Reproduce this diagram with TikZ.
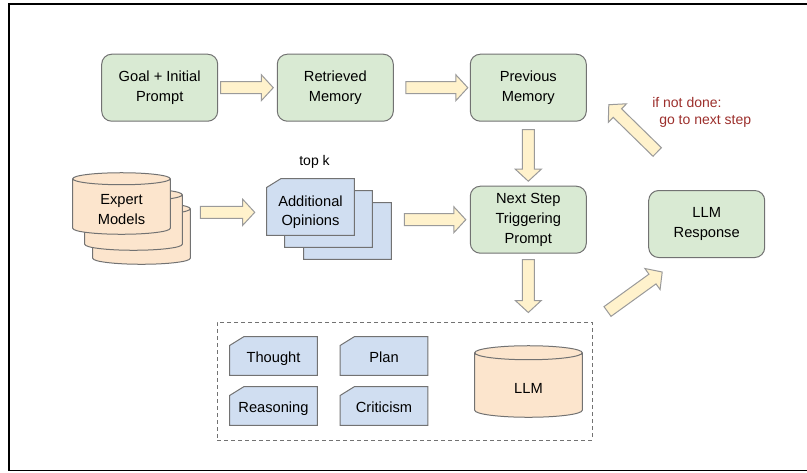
\documentclass[tikz,border=0pt]{standalone}
\usepackage{fontspec}
\setmainfont{Liberation Sans}
\usetikzlibrary{calc,backgrounds}

\definecolor{boxgreen}{HTML}{D9EAD3}
\definecolor{boxline}{HTML}{727272}
\definecolor{cardblue}{HTML}{D0DEF1}
\definecolor{cylorange}{HTML}{FCE5CD}
\definecolor{arrowyellow}{HTML}{FFF2CC}
\definecolor{arrowline}{HTML}{9A9A9A}
\definecolor{notered}{HTML}{9C2F2C}

\tikzset{
  stepbox/.style={draw=boxline, fill=boxgreen, rounded corners=7.5pt, line width=0.75pt,
    minimum width=87pt, minimum height=50.25pt, inner sep=0pt, align=center},
  cardnode/.style={minimum width=65.25pt, inner sep=0pt, align=center},
  cylnode/.style={inner sep=0pt, align=center},
  cardline/.style={draw=boxline, fill=cardblue, line width=0.75pt},
  cylline/.style={draw=boxline, fill=cylorange, line width=0.75pt},
  bigarrow/.style={draw=arrowline, fill=arrowyellow, line width=0.75pt},
  note/.style={font=\fontsize{10.5}{12.75}\selectfont, inner sep=0pt},
}

% card with cut corner, drawn behind a node
\newcommand{\drawcard}[1]{%
  \filldraw[cardline] let \p1=(#1.north west), \p2=(#1.south east) in
    ({\x1+10.5pt},\y1) -- (\x2,\y1) -- (\x2,\y2) -- (\x1,\y2) -- (\x1,{\y1-6.5pt}) -- cycle;}

% cylinder drawn round a node (#2 = radius of the ends)
\newcommand{\drawcyl}[2]{%
  \filldraw[cylline] let \p1=(#1.north west), \p2=(#1.south east), \n1={(\x2-\x1)/2} in
    (\x1,{\y1+#2}) -- (\x1,{\y2+#2}) arc[start angle=180, end angle=360, x radius=\n1, y radius=#2]
    -- (\x2,{\y1+#2}) arc[start angle=0, end angle=180, x radius=\n1, y radius=#2] -- cycle
    (\x1,{\y1+#2}) arc[start angle=180, end angle=360, x radius=\n1, y radius=#2];}

% block arrow from #1 to #2
\newcommand{\blockarrow}[2]{%
  \coordinate (ba-a) at #1;
  \coordinate (ba-b) at #2;
  \coordinate (ba-c) at ($(ba-b)!9pt!(ba-a)$);
  \filldraw[bigarrow]
    ($(ba-a)!4.5pt!90:(ba-b)$) -- ($(ba-c)!4.5pt!90:(ba-b)$) -- ($(ba-c)!9.75pt!90:(ba-b)$)
    -- (ba-b) -- ($(ba-c)!9.75pt!-90:(ba-b)$) -- ($(ba-c)!4.5pt!-90:(ba-b)$)
    -- ($(ba-a)!4.5pt!-90:(ba-b)$) -- cycle;}

% text set a little low, under the cut corner
\newcommand{\lowtext}[2]{\raisebox{-#1}[\height][\depth]{\begin{tabular}{@{}c@{}}#2\end{tabular}}}

\begin{document}
\begin{tikzpicture}[x=0.75pt, y=-0.75pt, every node/.style={font=\fontsize{11}{14.8}\selectfont}]
    \useasboundingbox (0,0) rectangle (807,472);

    % Frame
    \draw[line width=1pt] (807,4) -- (9,4) -- (9,470.5) -- (807,470.5);

    % Steps
    \node[stepbox] (goal) at (159.7,87.7) {Goal + Initial\\Prompt};
    \node[stepbox] (ret) at (335.3,87.7) {Retrieved\\Memory};
    \node[stepbox] (prev) at (528.3,87.7) {Previous\\Memory};
    \node[stepbox] (next) at (528.3,219.7) {Next Step\\Triggering\\Prompt};
    \node[stepbox] (resp) at (706.7,224) {LLM\\Response};

    % Expert models
    \node[cylnode, minimum width=72.75pt, minimum height=36.75pt] (exp) at (121.5,209.5) {Expert\\Models};
    \node[cylnode, minimum width=72.75pt, minimum height=36.75pt] (exp2) at ($(exp)+(12,16)$) {};
    \node[cylnode, minimum width=72.75pt, minimum height=36.75pt] (exp3) at ($(exp)+(20,30)$) {};

    % Opinions
    \node[cardnode, minimum height=42pt] (opin) at (310.5,207) {\lowtext{3.75pt}{Additional\\Opinions}};
    \node[cardnode, minimum height=42pt] (opin2) at ($(opin)+(18,12)$) {};
    \node[cardnode, minimum height=42pt] (opin3) at ($(opin)+(37,24)$) {};
    \node[note] (topk) at (314.5,162) {top k};

    % LLM group
    \node[draw=boxline, dashed, dash pattern=on 3pt off 2.25pt, line width=0.75pt,
      minimum width=281.25pt, minimum height=88.5pt, inner sep=0pt] (grp) at (404.5,381) {};
    \node[cardnode, minimum height=28.5pt] (thought) at (273.5,356) {\lowtext{2.25pt}{Thought}};
    \node[cardnode, minimum height=28.5pt] (plan) at (384,356) {\lowtext{2.25pt}{Plan}};
    \node[cardnode, minimum height=28.5pt] (reason) at (273.5,406) {\lowtext{2.25pt}{Reasoning}};
    \node[cardnode, minimum height=28.5pt] (crit) at (384,406) {\lowtext{2.25pt}{Criticism}};
    \node[cylnode, minimum width=80.25pt, minimum height=42.75pt] (llm) at (528.5,388.5) {LLM};

    \begin{scope}[on background layer]
        \drawcyl{exp3}{4.5pt}
        \drawcyl{exp2}{4.5pt}
        \drawcyl{exp}{4.5pt}
        \drawcard{opin3}
        \drawcard{opin2}
        \drawcard{opin}
        \drawcard{thought}
        \drawcard{plan}
        \drawcard{reason}
        \drawcard{crit}
        \drawcyl{llm}{5.25pt}
    \end{scope}

    % Arrows
    \blockarrow{($(goal.east)+(2.5,0)$)}{($(ret.west)+(-3.5,0)$)}
    \blockarrow{($(ret.east)+(12,0)$)}{($(prev.west)+(-2,0)$)}
    \blockarrow{($(prev.south)+(0,8)$)}{($(next.north)+(0,-4.5)$)}
    \blockarrow{($(next.south)+(0,6)$)}{($(next.south |- grp.north)+(0,-9)$)}
    \blockarrow{($(exp.east)+(30,2.8)$)}{($(opin.west)+(-12,5.3)$)}
    \blockarrow{($(opin3.east |- next.west)+(13,0)$)}{($(next.west)+(-4,0)$)}
    \blockarrow{($(grp.north east)+(15,-10)$)}{($(resp.south west)+(14,14)$)}
    \blockarrow{($(resp.north west)+(9,-38)$)}{($(prev.east)+(22,17)$)}

    % Loop note
    \node[note, anchor=west, align=left, text=notered] (cond) at (652,112.5) {if not done:\\\hspace*{5.25pt}go to next step};
\end{tikzpicture}
\end{document}
